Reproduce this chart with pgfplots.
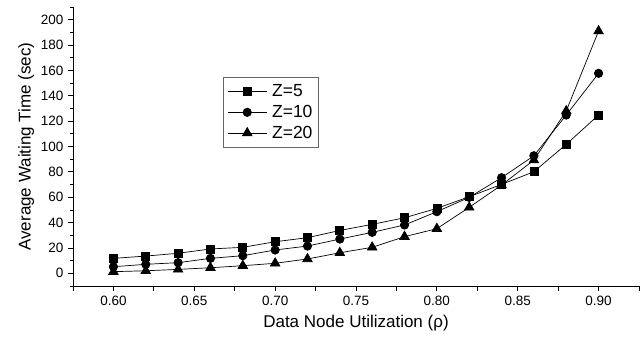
\documentclass[border=0pt]{standalone}
\usepackage{fontspec}
\setmainfont{Liberation Sans}
\usepackage{pgfplots}
\pgfplotsset{compat=1.18}
\begin{document}
\begin{tikzpicture}
\begin{axis}[
  name=ax,
  scale only axis,
  width=566pt, height=279pt,
  xmin=0.575, xmax=0.925,
  ymin=-10, ymax=210,
  axis x line*=bottom, axis y line*=left,
  axis line style={-, black, line width=0.8pt},
  xtick={0.575,0.6,0.625,0.65,0.675,0.7,0.725,0.75,0.775,0.8,0.825,0.85,0.875,0.9,0.925},
  xticklabels={,0.60,,0.65,,0.70,,0.75,,0.80,,0.85,,0.90,},
  ytick={0,20,...,200},
  minor ytick={-10,10,...,210},
  tick align=outside,
  major tick length=5pt,
  minor tick length=3pt,
  tick style={black, line width=0.8pt},
  /pgf/number format/assume math mode=true,
  ticklabel style={font=\fontsize{13.5}{13.5}\selectfont},
  xticklabel style={yshift=-2pt},
  yticklabel style={xshift=-1pt},
  xlabel={Data Node Utilization (ρ)},
  ylabel={Average Waiting Time (sec)},
  label style={font=\fontsize{17}{17}\selectfont},
  xlabel style={yshift=-2pt},
  ylabel style={yshift=0pt},
  legend style={at={(0.265,0.749)}, anchor=north west, draw=black!60, line width=0.8pt,
    font=\fontsize{17.5}{17.5}\selectfont, row sep=3pt, inner xsep=4pt, inner ysep=5.5pt,
    /tikz/every odd column/.append style={column sep=3pt}},
  legend cell align=left,
  legend image code/.code={
    \draw[mark=none] (0pt,0pt) -- (39pt,0pt);
    \draw[only marks] plot coordinates {(19.5pt,0pt)};
  },
]
\addplot[black, line width=0.7pt, mark=square*, mark size=4pt, mark options={solid,fill=black}] coordinates {
(0.60,11.8) (0.62,13.6) (0.64,15.8) (0.66,19.2) (0.68,20.5) (0.70,24.9) (0.72,28.1) (0.74,33.8)
(0.76,38.6) (0.78,43.8) (0.80,51.2) (0.82,60.4) (0.84,70.1) (0.86,80.1) (0.88,101.7) (0.90,124.8)};
\addlegendentry{Z=5}
\addplot[black, line width=0.7pt, mark=*, mark size=4.2pt, mark options={solid,fill=black}] coordinates {
(0.60,5.2) (0.62,7.1) (0.64,8.4) (0.66,11.8) (0.68,13.9) (0.70,18.4) (0.72,21.5) (0.74,27.0)
(0.76,32.3) (0.78,38.1) (0.80,48.6) (0.82,59.9) (0.84,75.4) (0.86,92.7) (0.88,124.8) (0.90,157.7)};
\addlegendentry{Z=10}
\addplot[black, line width=0.7pt, mark=triangle*, mark size=5.5pt, mark options={solid,fill=black}] coordinates {
(0.60,1.3) (0.62,2.0) (0.64,3.1) (0.66,4.4) (0.68,6.0) (0.70,7.9) (0.72,11.3) (0.74,16.2)
(0.76,20.5) (0.78,28.9) (0.80,35.2) (0.82,52.0) (0.84,69.6) (0.86,89.3) (0.88,128.0) (0.90,191.0)};
\addlegendentry{Z=20}
\end{axis}
\pgfresetboundingbox
\path ([shift={(-73pt,-56pt)}]ax.south west) rectangle ([shift={(1pt,7pt)}]ax.north east);
\end{tikzpicture}
\end{document}
